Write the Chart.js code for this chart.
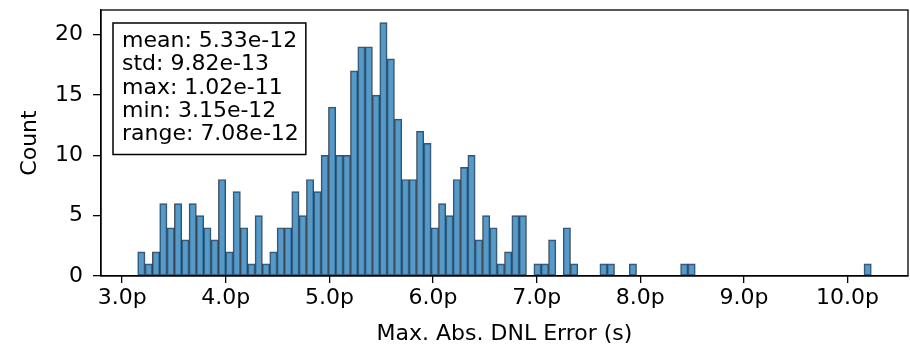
<!DOCTYPE html>
<html>
<head>
<meta charset="utf-8">
<script src="https://cdn.jsdelivr.net/npm/chart.js@4.4.0/dist/chart.umd.min.js"></script>
<style>
  html, body { margin: 0; padding: 0; background: #ffffff; }
</style>
</head>
<body>
<canvas id="chart" width="910" height="348"></canvas>
<script>
// histogram counts, 100 equal bins from min to max (x in ps)
const counts = [
    2, 1, 2, 6, 4, 6, 3, 6, 5, 4,
    3, 8, 2, 7, 4, 1, 5, 1, 2, 4,
    4, 7, 5, 8, 7, 10, 14, 10, 10, 17,
    19, 19, 15, 21, 18, 13, 8, 8, 12, 11,
    4, 6, 5, 8, 9, 10, 3, 5, 4, 1,
    2, 5, 5, 0, 1, 1, 3, 0, 4, 1,
    0, 0, 0, 1, 1, 0, 0, 1, 0, 0,
    0, 0, 0, 0, 1, 1, 0, 0, 0, 0,
    0, 0, 0, 0, 0, 0, 0, 0, 0, 0,
    0, 0, 0, 0, 0, 0, 0, 0, 0, 1
];
const binMin = 3.15;
const binRange = 7.08;
const xTicks = [3, 4, 5, 6, 7, 8, 9, 10];
const yTicks = [0, 5, 10, 15, 20];
const statsLines = [
    'mean: 5.33e-12',
    'std: 9.82e-13',
    'max: 1.02e-11',
    'min: 3.15e-12',
    'range: 7.08e-12'
];

const binWidth = binRange / counts.length;
const histData = counts.map((c, i) => ({ x: binMin + (i + 0.5) * binWidth, y: c }));

const FONT = '"DejaVu Sans", sans-serif';
const FSIZE = 22;

const frame = {
    id: 'frame',
    afterDraw(chart) {
        const ctx = chart.ctx;
        const a = chart.chartArea;
        ctx.save();
        ctx.strokeStyle = '#000000';
        ctx.lineWidth = 1.3;
        ctx.strokeRect(a.left, a.top, a.right - a.left, a.bottom - a.top);

        // stats box in the upper left corner
        ctx.font = FSIZE + 'px ' + FONT;
        ctx.textBaseline = 'alphabetic';
        const w = Math.max(...statsLines.map(s => ctx.measureText(s).width));
        const bx = a.left + 12, by = a.top + 13;
        const lh = 23.3;
        const bw = w + 16, bh = lh * statsLines.length + 15;
        ctx.fillStyle = '#ffffff';
        ctx.fillRect(bx, by, bw, bh);
        ctx.lineWidth = 1.5;
        ctx.strokeRect(bx, by, bw, bh);
        ctx.fillStyle = '#000000';
        statsLines.forEach((s, i) => ctx.fillText(s, bx + 9, by + 24 + i * lh));
        ctx.restore();
    }
};

const chart = new Chart(document.getElementById('chart').getContext('2d'), {
    type: 'bar',
    data: {
        datasets: [{
            label: 'Count',
            data: histData,
            backgroundColor: 'rgba(31,119,180,0.75)',
            borderColor: 'rgba(20,35,50,0.8)',
            borderWidth: 1,
            borderSkipped: false,
            barPercentage: 1.0,
            categoryPercentage: 1.0,
            grouped: false
        }]
    },
    options: {
        responsive: false,
        animation: false,
        devicePixelRatio: 1,
        layout: { padding: { top: 10, right: 2, left: 0, bottom: 0 } },
        plugins: {
            legend: { display: false },
            tooltip: { enabled: false }
        },
        scales: {
            x: {
                type: 'linear',
                offset: false,
                min: 2.796,
                max: 10.584,
                afterBuildTicks: s => { s.ticks = xTicks.map(v => ({ value: v })); },
                afterFit: s => { s.height = 72; s.paddingLeft = 0; s.paddingRight = 0; },
                ticks: {
                    color: '#000000',
                    font: { family: FONT, size: FSIZE },
                    padding: 2,
                    maxRotation: 0,
                    callback: v => v.toFixed(1) + 'p'
                },
                grid: {
                    offset: false,
                    drawOnChartArea: false,
                    drawTicks: true,
                    tickLength: 7,
                    color: '#000000',
                    lineWidth: 1.3
                },
                border: { display: true, color: '#000000', width: 1.3 },
                title: {
                    display: true,
                    text: 'Max. Abs. DNL Error (s)',
                    color: '#000000',
                    font: { family: FONT, size: FSIZE },
                    padding: { top: 0, bottom: 1 }
                }
            },
            y: {
                min: 0,
                max: 22.05,
                afterBuildTicks: s => { s.ticks = yTicks.map(v => ({ value: v })); },
                afterFit: s => { s.width = 101; s.paddingTop = 0; s.paddingBottom = 0; },
                ticks: {
                    color: '#000000',
                    font: { family: FONT, size: FSIZE },
                    padding: 10
                },
                grid: {
                    drawOnChartArea: false,
                    drawTicks: true,
                    tickLength: 8,
                    color: '#000000',
                    lineWidth: 1.3
                },
                border: { display: true, color: '#000000', width: 1.3 },
                title: {
                    display: true,
                    text: 'Count',
                    color: '#000000',
                    font: { family: FONT, size: FSIZE },
                    padding: { top: 17, bottom: 0 }
                }
            }
        }
    },
    plugins: [frame]
});
</script>
</body>
</html>
